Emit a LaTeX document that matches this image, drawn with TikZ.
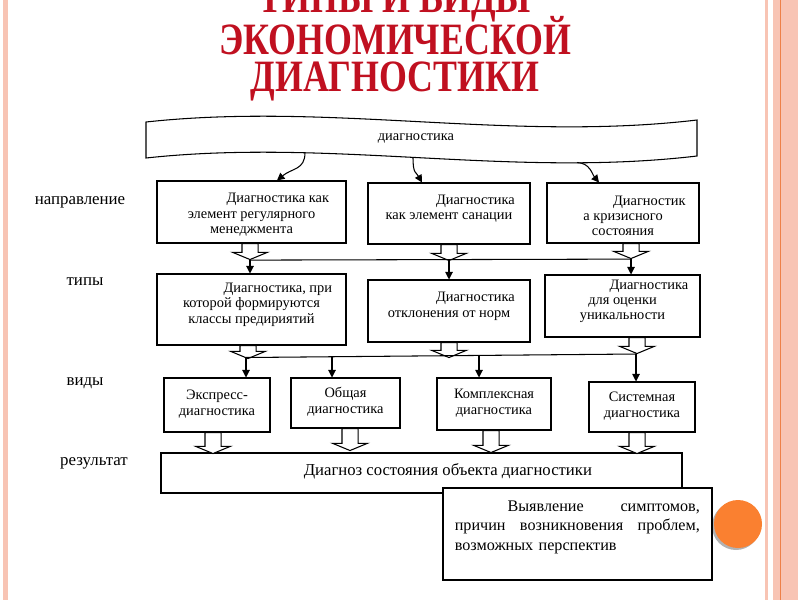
\documentclass[tikz,border=0pt]{standalone}
\usepackage{fontspec}
\setmainfont{Liberation Serif}
\newfontfamily\titlefont[FakeStretch=0.8]{Liberation Serif}
\usetikzlibrary{shapes.arrows,arrows.meta,fit}
\definecolor{titlered}{RGB}{192,16,32}
\definecolor{barpink}{RGB}{248,196,180}
\definecolor{barline}{RGB}{238,128,72}
\definecolor{dotorange}{RGB}{250,128,48}

\begin{document}
\begin{tikzpicture}[x=0.02cm, y=-0.02cm, >={Triangle[length=1.5mm,width=1.5mm]}]
        \tikzstyle{box}=[draw, line width=0.6pt, inner sep=0pt, align=center, font=\fontsize{8.2}{8.7}\selectfont]
        \tikzstyle{vid}=[box, align=left]
        \tikzstyle{lbl}=[font=\fontsize{9.6}{10}\selectfont]
        \tikzstyle{blk}=[draw, fill=white, line width=0.6pt, single arrow, shape border rotate=270, inner xsep=0.15cm, inner ysep=0pt, single arrow head extend=0.19cm, single arrow tip angle=135, anchor=tail]
        \tikzstyle{thin}=[line width=0.6pt, ->]
        \useasboundingbox (0,0) rectangle (800,600);
        \clip (0,0) rectangle (800,600);
        % slide frame
        \fill[barpink] (3,0) rectangle (8,600);
        \fill[barpink] (765,0) rectangle (768,600);
        \fill[barpink] (773,0) rectangle (798,600);
        \draw[barline, line width=0.5pt] (780.5,0) -- (780.5,600);
        \fill[gray!60] (736,526) circle (24);
        \fill[dotorange] (738,524) circle (24);
        \node[text=titlered, font=\titlefont\bfseries\fontsize{25.5}{21}\selectfont, align=center] (title) at (395,42) {ТИПЫ И ВИДЫ\\[-4pt]ЭКОНОМИЧЕСКОЙ\\ДИАГНОСТИКИ};
        % banner
        \draw[line width=0.6pt] (146,122) .. controls (330,102) and (510,142) .. (697,120) -- (697,156) .. controls (510,178) and (330,138) .. (146,158) -- cycle;
        \node[font=\fontsize{8.2}{8.7}\selectfont] (diag) at (416,138) {диагностика};
        \coordinate (w1) at (305,152.5);
        \coordinate (w2) at (413,157.5);
        \coordinate (w3) at (577,162.5);
        % left labels
        \node[lbl] (napr) at (80,202) {направление};
        \node[lbl] (tipy) at (85,282) {типы};
        \node[lbl] (vidy) at (85,383) {виды};
        \node[lbl] (rez) at (94,463) {результат};
        % row 1
        \node[box, fit={(157,181) (346,243)}] (a1) {\mbox{}\\\hspace*{30pt}Диагностика как\\элемент регулярного\\менеджмента};
        \node[box, fit={(368,183) (530,244)}] (a2) {\hspace*{30pt}Диагностика\\как элемент санации};
        \node[box, fit={(547,183) (699,243)}] (a3) {\mbox{}\\\hspace*{30pt}Диагностик\\а кризисного\\состояния};
        \draw[thin] (w1) .. controls (305,170) and (292,168) .. ([xshift=0.51cm]a1.north);
        \draw[thin] (w2) .. controls (413,174) and (416,172) .. ([xshift=-0.54cm]a2.north);
        \draw[thin] (w3) .. controls (590,163) and (592,174) .. ([xshift=-0.48cm]a3.north);
        % row 2
        \node[box, fit={(157,274) (346,345)}] (b1) {\hspace*{30pt}Диагностика, при\\которой формируются\\классы предириятий};
        \node[box, fit={(368,280) (530,342)}] (b2) {\hspace*{30pt}Диагностика\\отклонения от норм};
        \node[box, fit={(545,275) (700,337)}] (b3) {\hspace*{30pt}Диагностика\\для оценки\\уникальности};
        \node[blk, minimum height=0.32cm] (ba1) at (250,243) {};
        \node[blk, minimum height=0.32cm] (ba2) at (449,244) {};
        \node[blk, minimum height=0.30cm] (ba3) at (631,243) {};
        \draw[line width=0.6pt] (ba1.tip) -- (ba3.tip);
        \draw[thin] (ba1.tip) -- (ba1.tip |- b1.north);
        \draw[thin] (ba2.tip) -- (ba2.tip |- b2.north);
        \draw[thin] (ba3.tip) -- (ba3.tip |- b3.north);
        % row 3
        \node[vid, fit={(164,378) (270,432)}] (c1) {\mbox{}\\[-4.4pt]Экспресс-\\диагностика};
        \node[vid, fit={(291,378) (400,428)}] (c2) {\mbox{}\\[-4.4pt]Общая\\диагностика};
        \node[vid, fit={(437,378) (551,430)}] (c3) {\mbox{}\\[-4.4pt]Комплексная\\диагностика};
        \node[vid, fit={(589,382) (695,432)}] (c4) {\mbox{}\\[-4.4pt]Системная\\диагностика};
        \node[blk, minimum height=0.26cm] (ba4) at (248,345) {};
        \node[blk, minimum height=0.30cm] (ba5) at (449,342) {};
        \node[blk, minimum height=0.32cm] (ba6) at (637,337) {};
        \coordinate (v1) at (246,357.5);
        \coordinate (v2) at (332,357);
        \coordinate (v3) at (479,356);
        \coordinate (v4) at (636,354);
        \draw[line width=0.6pt] (v1) -- (v4);
        \draw[thin] (v1) -- (v1 |- c1.north);
        \draw[thin] (v2) -- (v2 |- c2.north);
        \draw[thin] (v3) -- (v3 |- c3.north);
        \draw[thin] (v4) -- (v4 |- c4.north);
        % result
        \node[box, font=\fontsize{9.5}{10}\selectfont, fit={(161,453) (682,493)}] (res) {\mbox{}\\[-5pt]\hspace*{30pt}Диагноз состояния объекта диагностики};
        \node[blk, minimum height=0.42cm] (ba7) at (213,432) {};
        \node[blk, minimum height=0.44cm] (ba8) at (350,428) {};
        \node[blk, minimum height=0.44cm] (ba9) at (491,430) {};
        \node[blk, minimum height=0.42cm] (ba10) at (637,432) {};
        \node[box, fill=white, fit={(443,488) (712,580)}] (fin) {};
        \node[anchor=north west, align=left, text width=245*0.02cm, inner sep=0pt, font=\fontsize{9.2}{11}\selectfont] (fintxt) at ([xshift=0.24cm,yshift=-0.26cm]fin.north west) {\hspace*{30pt}Выявление\hfill симптомов,\\причин\hfill возникновения\hfill проблем,\\возможных перспектив};
\end{tikzpicture}
\end{document}
